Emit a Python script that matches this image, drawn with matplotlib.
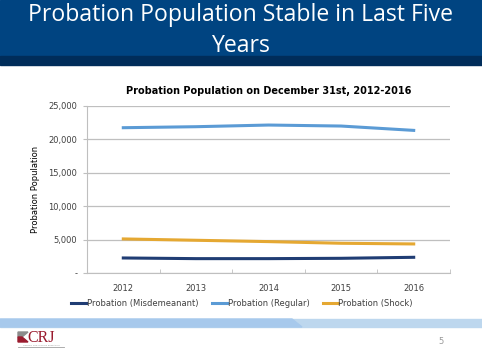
import numpy as np
import matplotlib
matplotlib.use("Agg")
import matplotlib.pyplot as plt
from matplotlib.patches import Rectangle, Polygon

# data
years = ["2012", "2013", "2014", "2015", "2016"]
misdemeanant = [2250, 2150, 2150, 2200, 2350]
regular = [21750, 21900, 22150, 22000, 21350]
shock = [5100, 4900, 4700, 4450, 4350]
yticks = [0, 5000, 10000, 15000, 20000, 25000]
ytick_labels = ["-", "5,000", "10,000", "15,000", "20,000", "25,000"]

W, H = 482, 362
fig = plt.figure(figsize=(W / 100, H / 100), dpi=100)
fig.patch.set_facecolor("white")

def fx(px):
    return px / W

def fy(py):
    return 1 - py / H

# header band
fig.patches.append(Rectangle((0, fy(56)), 1, 56 / H, transform=fig.transFigure,
                             color="#004481", zorder=0))
fig.patches.append(Rectangle((0, fy(65)), 1, 9 / H, transform=fig.transFigure,
                             color="#002D5A", zorder=0))
fig.text(0.5, fy(15), "Probation Population Stable in Last Five", ha="center", va="center",
         color="white", fontsize=16.6, family="Open Sans")
fig.text(0.5, fy(46), "Years", ha="center", va="center",
         color="white", fontsize=16.6, family="Open Sans")

# footer band
fig.patches.append(Rectangle((0, fy(327)), 1, 8 / H, transform=fig.transFigure,
                             color="#BDD7EE", zorder=0))
fig.patches.append(Polygon([(0, fy(327)), (fx(302), fy(327)), (fx(292), fy(319)),
                            (0, fy(319))], closed=True, transform=fig.transFigure,
                           color="#A7C9EC", zorder=0))

# logo
fig.patches.append(Polygon([(fx(18), fy(332)), (fx(28), fy(332)), (fx(22), fy(337)),
                            (fx(18), fy(337))], closed=True,
                           transform=fig.transFigure, color="#8C8C8C", zorder=1))
fig.patches.append(Polygon([(fx(18), fy(337)), (fx(22), fy(337)), (fx(28), fy(342)),
                            (fx(18), fy(342))], closed=True,
                           transform=fig.transFigure, color="#9A1B2E", zorder=1))
fig.text(fx(27), fy(338), "CRJ", ha="left", va="center", color="#9A1B2E",
         fontsize=11.5, family="Liberation Serif")
fig.lines.append(plt.Line2D([fx(18), fx(64)], [fy(347), fy(347)], transform=fig.transFigure,
                            color="#A0A0A0", lw=0.6))
fig.text(fx(41), fy(345), "CENTER FOR JUSTICE RESEARCH", ha="center", va="center",
         color="#999999", fontsize=1.6)
fig.text(fx(441), fy(342), "5", ha="center", va="center", color="#999999", fontsize=6)

# chart
ax = fig.add_axes([fx(87), fy(273), (450 - 87) / W, (273 - 106) / H])
x = np.arange(len(years))
ax.plot(x, misdemeanant, color="#203D74", lw=2.2, label="Probation (Misdemeanant)")
ax.plot(x, regular, color="#5B9BD5", lw=2.2, label="Probation (Regular)")
ax.plot(x, shock, color="#E5A832", lw=2.2, label="Probation (Shock)")

ax.set_xlim(-0.5, len(years) - 0.5)
ax.set_ylim(0, 25000)
ax.set_yticks(yticks)
ax.set_yticklabels(ytick_labels)
ax.set_xticks(x)
ax.set_xticklabels(years)
ax.set_xticks(np.arange(len(years) + 1) - 0.5, minor=True)
ax.tick_params(axis="x", which="major", length=0, labelsize=6, colors="#404040", pad=8)
ax.tick_params(axis="x", which="minor", length=3, color="#BFBFBF", direction="in")
ax.tick_params(axis="y", length=3, color="#BFBFBF", labelsize=6, colors="#404040", pad=4)
ax.grid(axis="y", color="#BFBFBF", lw=0.9)
ax.set_axisbelow(True)
for s in ["top", "right"]:
    ax.spines[s].set_visible(False)
ax.spines["left"].set_color("#BFBFBF")
ax.spines["bottom"].set_color("#BFBFBF")
ax.set_ylabel("Probation Population", fontsize=6, color="black", labelpad=6)
ax.set_title("Probation Population on December 31st, 2012-2016", fontsize=7,
             fontweight="bold", pad=9)

leg = ax.legend(loc="upper center", bbox_to_anchor=(0.427, -0.11), ncol=3, frameon=False,
                fontsize=6, handlelength=1.8, handletextpad=0.1, columnspacing=1.6)
for t in leg.get_texts():
    t.set_color("#404040")

fig.savefig("out.png", dpi=100)
